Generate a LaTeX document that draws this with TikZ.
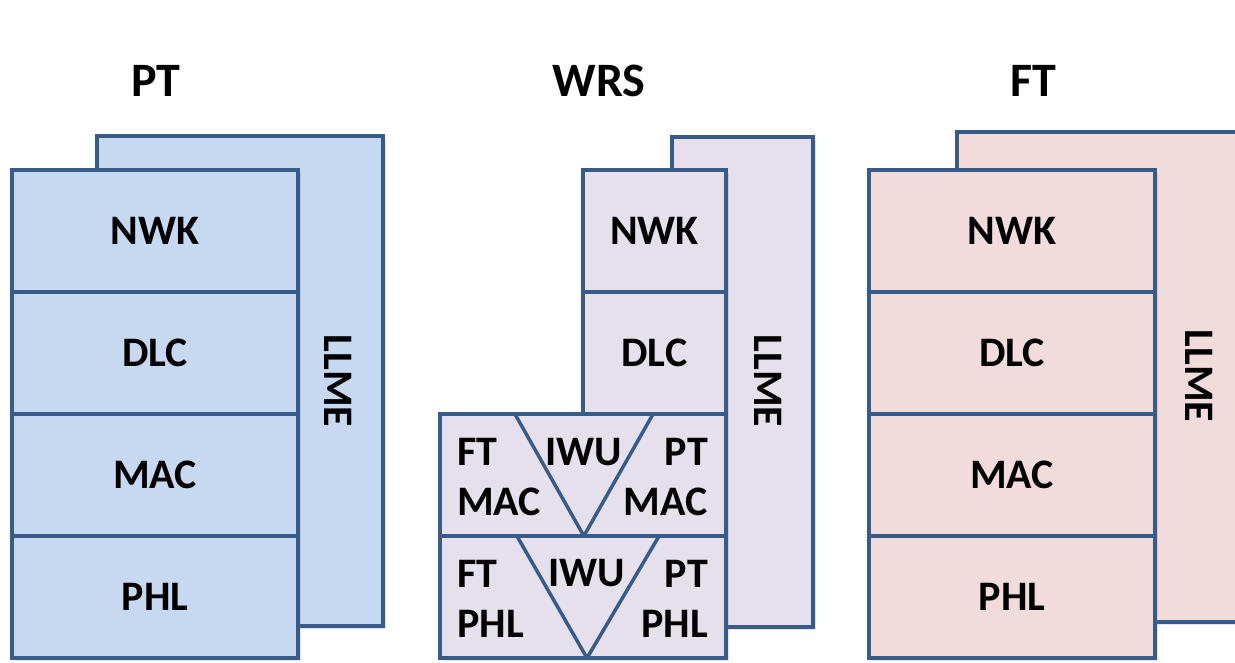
\documentclass[tikz,border=0pt]{standalone}
\usepackage{fontspec}
\setmainfont{Carlito}
\usetikzlibrary{positioning,shadows,calc}
\definecolor{edgeblue}{HTML}{385C89}
\definecolor{ptfill}{HTML}{C6D9F1}
\definecolor{wrsfill}{HTML}{E5E0EC}
\definecolor{ftfill}{HTML}{F2DCDB}
\tikzset{
  layer/.style={draw=edgeblue,line width=4pt,minimum width=286pt,minimum height=122pt,
    outer sep=0pt,inner sep=0pt,font=\bfseries\fontsize{42}{50}\selectfont,
    drop shadow={shadow xshift=3pt,shadow yshift=-3pt,opacity=0.22}},
  mgmt/.style={layer,minimum height=490pt},
  title/.style={font=\bfseries\fontsize{48}{48}\selectfont,inner sep=0pt},
  lbl/.style={font=\bfseries\fontsize{42}{50}\selectfont,inner sep=0pt},
  split/.style={draw=edgeblue,line width=3.5pt,line join=round},
}

\begin{document}
\begin{tikzpicture}[x=1pt,y=-1pt]
  \useasboundingbox (0,0) rectangle (1235,662);
  \clip (0,0) rectangle (1235,662);
  % titles
  \node[title] (ttpt) at (156,81) {PT};
  \node[title] (ttwrs) at (599,81) {WRS};
  \node[title] (ttft) at (1033,81) {FT};
  % PT stack
  \node[mgmt,fill=ptfill] (ptllme) at (240,381) {};
  \node[lbl,rotate=-90] (ptllmetxt) at (338,381) {LLME};
  \node[layer,fill=ptfill] (ptnwk) at (155,231) {NWK};
  \node[layer,fill=ptfill,below=0pt of ptnwk] (ptdlc) {DLC};
  \node[layer,fill=ptfill,below=0pt of ptdlc] (ptmac) {MAC};
  \node[layer,fill=ptfill,below=0pt of ptmac] (ptphl) {PHL};
  % WRS stack
  \node[mgmt,fill=wrsfill,minimum width=141pt] (wllme) at (742.5,381.5) {};
  \node[lbl,rotate=-90] (wllmetxt) at (768,381) {LLME};
  \node[layer,fill=wrsfill,minimum width=143pt] (wnwk) at (654.5,231) {NWK};
  \node[layer,fill=wrsfill,minimum width=143pt,below=0pt of wnwk] (wdlc) {DLC};
  \node[layer,fill=wrsfill,anchor=north east] (wmac) at (wdlc.south east) {};
  \node[layer,fill=wrsfill,below=0pt of wmac] (wphl) {};
  % interworking wedges
  \coordinate (mtl) at ($(wmac.north west)!0.262!(wmac.north east)$);
  \coordinate (mtr) at ($(wmac.north west)!0.745!(wmac.north east)$);
  \coordinate (mbot) at ($(wmac.south west)!0.503!(wmac.south east)$);
  \coordinate (ptl) at ($(wphl.north west)!0.269!(wphl.north east)$);
  \coordinate (ptr) at ($(wphl.north west)!0.766!(wphl.north east)$);
  \coordinate (pbot) at ($(wphl.south west)!0.514!(wphl.south east)$);
  \draw[split] (mtl) -- (mbot) -- (mtr);
  \draw[split] (ptl) -- (pbot) -- (ptr);
  \node[lbl,align=left,anchor=west] (wftmac) at (457,477) {FT\\MAC};
  \node[lbl] (wiwum) at (584,452) {IWU};
  \node[lbl,align=right,anchor=east] (wptmac) at (708,477) {PT\\MAC};
  \node[lbl,align=left,anchor=west] (wftphl) at (457,598.5) {FT\\PHL};
  \node[lbl] (wiwup) at (587,573) {IWU};
  \node[lbl,align=right,anchor=east] (wptphl) at (708,598.5) {PT\\PHL};
  % FT stack
  \node[mgmt,fill=ftfill] (ftllme) at (1100,377) {};
  \node[lbl,rotate=-90] (ftllmetxt) at (1199,376) {LLME};
  \node[layer,fill=ftfill] (ftnwk) at (1012,231) {NWK};
  \node[layer,fill=ftfill,below=0pt of ftnwk] (ftdlc) {DLC};
  \node[layer,fill=ftfill,below=0pt of ftdlc] (ftmac) {MAC};
  \node[layer,fill=ftfill,below=0pt of ftmac] (ftphl) {PHL};
\end{tikzpicture}
\end{document}
